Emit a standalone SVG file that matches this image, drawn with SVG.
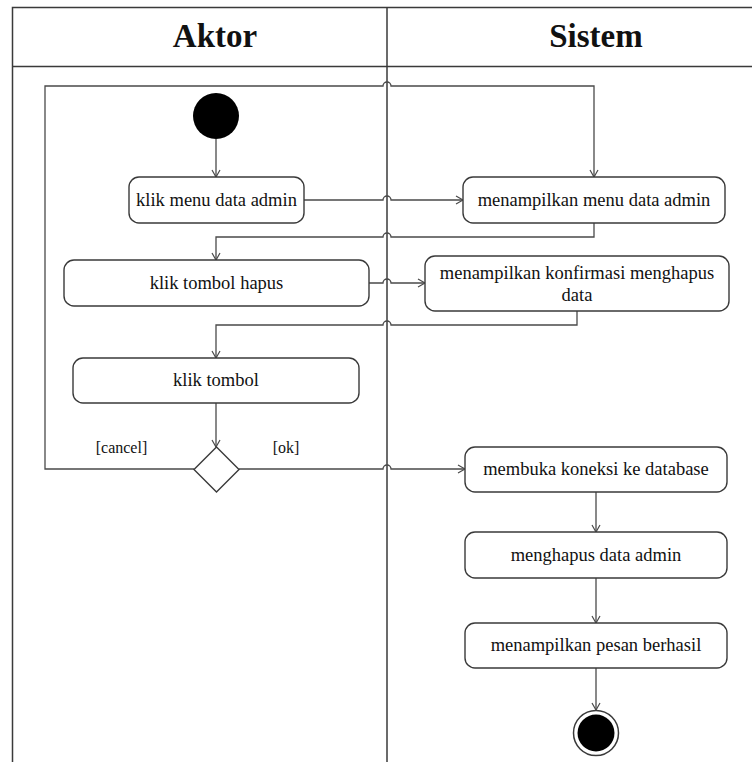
<svg xmlns="http://www.w3.org/2000/svg" width="752" height="762" viewBox="0 0 752 762">
<style>
.frame{fill:none;stroke:#3a3a3a;stroke-width:1.5}
.act{fill:#fff;stroke:#3a3a3a;stroke-width:1.4}
.lbl{font-family:'Liberation Serif','Times New Roman',Times,'DejaVu Serif',serif;font-size:18.5px;fill:#111;text-anchor:middle}
.hdr{font-family:'Liberation Serif','Times New Roman',Times,'DejaVu Serif',serif;font-size:33px;font-weight:bold;fill:#111;text-anchor:middle}
.grd{font-family:'Liberation Serif','Times New Roman',Times,'DejaVu Serif',serif;font-size:16px;fill:#111;text-anchor:middle}
.edge{fill:none;stroke:#4a4a4a;stroke-width:1.3}
</style>
<defs>
<marker id="arr" markerUnits="userSpaceOnUse" markerWidth="12" markerHeight="12" viewBox="0 0 12 12" refX="10" refY="6" orient="auto">
<path d="M3,2 L10,6 L3,10" fill="none" stroke="#4a4a4a" stroke-width="1.2"/>
</marker>
</defs>
<rect width="752" height="762" fill="#fff"/>
<g id="swimlanes">
<path class="frame" d="M12.5,762 V7.5 H752"/>
<path class="frame" d="M12.5,66.5 H752"/>
<path class="frame" d="M387,7.5 V762"/>
<text class="hdr" x="215" y="47">Aktor</text>
<text class="hdr" x="596" y="47">Sistem</text>
</g>
<g id="connectors">
<path class="edge" d="M216,139 V177" marker-end="url(#arr)"/>
<path class="edge" d="M304,200 H383 a4,4 0 0 1 8,0 H463" marker-end="url(#arr)"/>
<path class="edge" d="M194,469 H45 V86 H383 a4,4 0 0 1 8,0 H594 V177" marker-end="url(#arr)"/>
<path class="edge" d="M594,223 V237 H391 a4,4 0 0 0 -8,0 H216 V260" marker-end="url(#arr)"/>
<path class="edge" d="M369,283 H383 a4,4 0 0 1 8,0 H425" marker-end="url(#arr)"/>
<path class="edge" d="M577,311 V325 H391 a4,4 0 0 0 -8,0 H216 V358" marker-end="url(#arr)"/>
<path class="edge" d="M216,403 V447" marker-end="url(#arr)"/>
<path class="edge" d="M239,469 H383 a4,4 0 0 1 8,0 H465" marker-end="url(#arr)"/>
<path class="edge" d="M596,492 V532" marker-end="url(#arr)"/>
<path class="edge" d="M596,578 V623" marker-end="url(#arr)"/>
<path class="edge" d="M596,668 V710" marker-end="url(#arr)"/>
<text class="grd" x="121.5" y="453">[cancel]</text>
<text class="grd" x="286" y="453">[ok]</text>
</g>
<g id="start">
<circle cx="216" cy="116" r="23" fill="#000"/>
</g>
<g id="klik-menu">
<rect class="act" x="129" y="177" width="175" height="46" rx="10"/>
<text class="lbl" x="216.5" y="206">klik menu data admin</text>
</g>
<g id="menampilkan-menu">
<rect class="act" x="463" y="177" width="262" height="46" rx="10"/>
<text class="lbl" x="594" y="206">menampilkan menu data admin</text>
</g>
<g id="klik-hapus">
<rect class="act" x="64" y="260" width="305" height="46" rx="10"/>
<text class="lbl" x="216.5" y="289">klik tombol hapus</text>
</g>
<g id="konfirmasi">
<rect class="act" x="425" y="256" width="304" height="55" rx="10"/>
<text class="lbl" x="577" y="279">menampilkan konfirmasi menghapus</text>
<text class="lbl" x="577" y="301">data</text>
</g>
<g id="klik-tombol">
<rect class="act" x="73" y="358" width="286" height="45" rx="10"/>
<text class="lbl" x="216" y="386">klik tombol</text>
</g>
<g id="decision">
<path class="act" d="M216.5,447 L239,469.5 L216.5,492 L194,469.5 Z"/>
</g>
<g id="membuka">
<rect class="act" x="465" y="447" width="262" height="45" rx="10"/>
<text class="lbl" x="596" y="475">membuka koneksi ke database</text>
</g>
<g id="menghapus">
<rect class="act" x="465" y="532" width="262" height="46" rx="10"/>
<text class="lbl" x="596" y="561">menghapus data admin</text>
</g>
<g id="pesan">
<rect class="act" x="465" y="623" width="262" height="45" rx="10"/>
<text class="lbl" x="596" y="651">menampilkan pesan berhasil</text>
</g>
<g id="end">
<circle cx="596" cy="733" r="22.5" fill="#fff" stroke="#3a3a3a" stroke-width="1.5"/>
<circle cx="596" cy="733" r="18.5" fill="#000"/>
</g>
</svg>
